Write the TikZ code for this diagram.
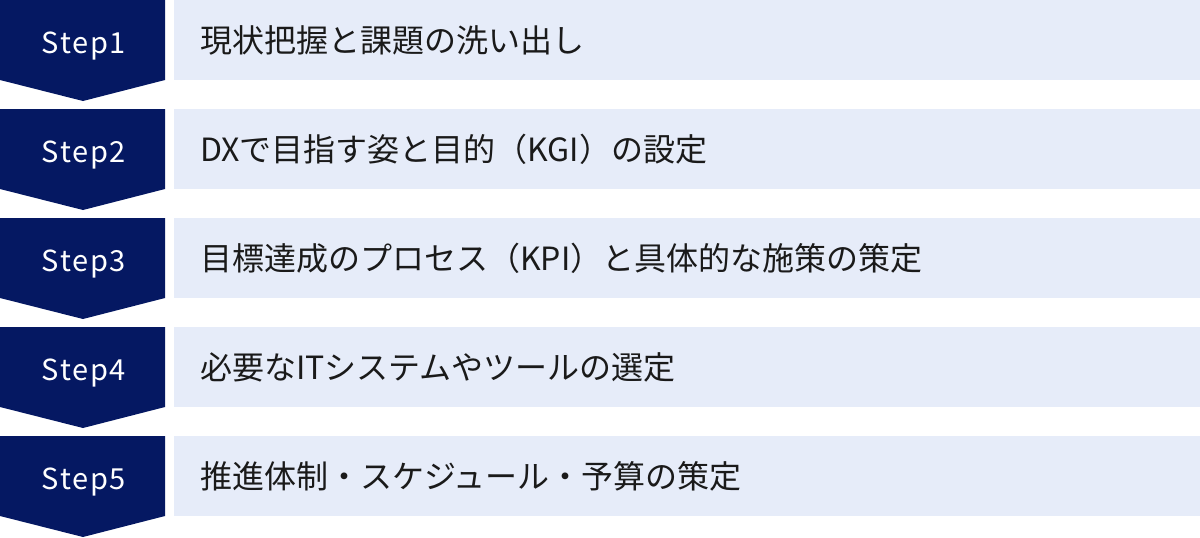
\documentclass[tikz,border=0pt]{standalone}
\usepackage{fontspec}
\setmainfont{Noto Sans CJK JP}
\definecolor{navy}{RGB}{5,24,98}
\definecolor{pale}{RGB}{230,236,249}
\definecolor{ink}{RGB}{26,26,26}
\tikzset{
  stepshape/.style={fill=navy},
  steplabel/.style={anchor=base, inner sep=0pt, text=white, font=\fontsize{29}{34}\selectfont\addfontfeatures{LetterSpace=6}},
  bar/.style={fill=pale},
  bartext/.style={anchor=base west, inner sep=0pt, text=ink, font=\fontsize{32}{37}\selectfont}
}
\begin{document}
\begin{tikzpicture}[x=1pt,y=-1pt]
\useasboundingbox (0,0) rectangle (1200,538);
\foreach \k/\txt in {0/現状把握と課題の洗い出し,
                     1/DXで目指す姿と目的（KGI）の設定,
                     2/目標達成のプロセス（KPI）と具体的な施策の策定,
                     3/必要なITシステムやツールの選定,
                     4/推進体制・スケジュール・予算の策定}{
  \pgfmathsetmacro{\t}{109*\k}
  \pgfmathtruncatemacro{\n}{\k+1}
  \fill[stepshape] (0,\t) -- (165,\t) -- (165,\t+80) -- (83,\t+101) -- (0,\t+80) -- cycle;
  \fill[bar] (174,\t) rectangle (1200,\t+80);
  \node[steplabel] (s\n) at (84,\t+53) {Step\n};
  \node[bartext] (b\n) at (200,\t+52) {\txt};
}
\end{tikzpicture}
\end{document}
